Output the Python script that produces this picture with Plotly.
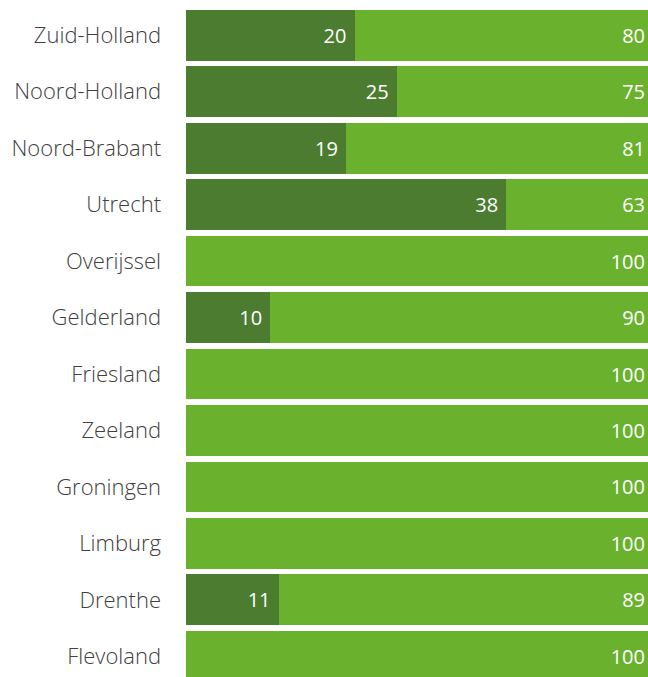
import plotly.graph_objects as go

provinces = ["Zuid-Holland", "Noord-Holland", "Noord-Brabant", "Utrecht", "Overijssel",
             "Gelderland", "Friesland", "Zeeland", "Groningen", "Limburg", "Drenthe", "Flevoland"]
dark = [20, 25, 19, 38, 0, 10, 0, 0, 0, 0, 11, 0]
light = [80, 75, 81, 63, 100, 90, 100, 100, 100, 100, 89, 100]

# visible part of the x scale (the original chart is cut off at the right)
X_MAX = 54.8
light_visible = [X_MAX - d for d in dark]

DARK_GREEN = "#4c7c30"
LIGHT_GREEN = "#6ab22e"

fig = go.Figure()
fig.add_trace(go.Bar(
    y=provinces, x=dark, orientation="h", marker=dict(color=DARK_GREEN, line=dict(width=0)),
    text=[f"{v}\u00a0" if v else "" for v in dark],
    textposition="inside", insidetextanchor="end",
    textfont=dict(family="Open Sans", size=20, color="white"),
))
fig.add_trace(go.Bar(
    y=provinces, x=light_visible, orientation="h", marker=dict(color=LIGHT_GREEN, line=dict(width=0)),
    text=[str(v) for v in light],
    textposition="inside", insidetextanchor="end",
    textfont=dict(family="Open Sans", size=20, color="white"),
))

fig.update_layout(
    barmode="stack", bargap=0.102, showlegend=False,
    width=648, height=677, margin=dict(l=186, r=0, t=0, b=0),
    plot_bgcolor="white", paper_bgcolor="white",
    font=dict(family="Open Sans", size=20, color="#3a3a3a"),
)
fig.update_xaxes(range=[0, X_MAX], visible=False, fixedrange=True)
fig.update_yaxes(range=[11.367, -0.626], showgrid=False, zeroline=False, showline=False,
                 ticks="", ticklabelstandoff=24, automargin=False, fixedrange=True,
                 tickfont=dict(family="Open Sans", size=22, color="#404040", weight=300))

# no page margin, so the figure sits at the top-left corner of the window
fig.write_html("out.html", config={"displayModeBar": False},
               post_script="document.body.style.margin='0';")
